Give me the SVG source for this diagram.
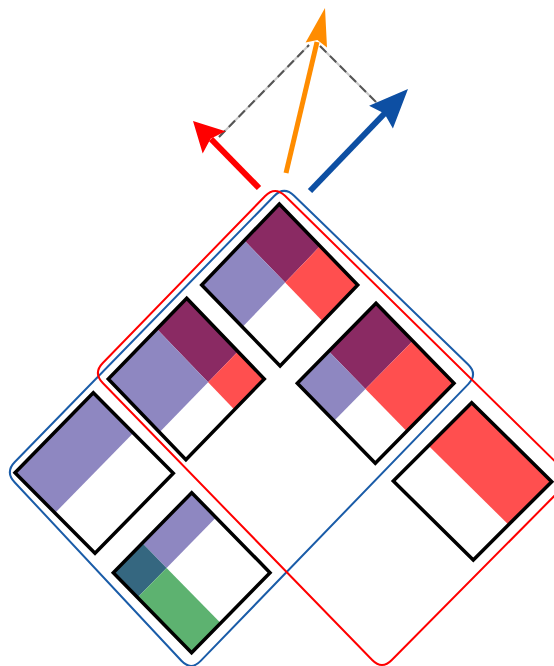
<svg xmlns="http://www.w3.org/2000/svg" width="554" height="666" viewBox="0 0 554 666">
<style>
.frame{fill:none;stroke:#000;stroke-width:3.5;stroke-linejoin:miter;vector-effect:non-scaling-stroke}
.pu{fill:#8a2a63}.rd{fill:#ff4f4f}.lv{fill:#8e87c1}.tl{fill:#356780}.gr{fill:#5db270}.wh{fill:#fff}
.ob{fill:none;stroke:#1a5ca8;stroke-width:2}
.or{fill:none;stroke:#ff0000;stroke-width:2}
.dl{stroke:#c8c8c8;stroke-width:2;fill:none}
.dd{stroke:#555;stroke-width:2;stroke-dasharray:9 5;fill:none}
</style>
<rect width="554" height="666" fill="#fff"/>
<g id="tiles">
<g id="tileA" transform="matrix(78.4 81 -77.6 81 279.3 204)">
<polygon class="wh" points="0,0 1,0 1,1 0,1"/>
<rect class="pu" x="0" y="0" width="0.52" height="0.45"/>
<rect class="rd" x="0.52" y="0" width="0.48" height="0.45"/>
<rect class="lv" x="0" y="0.45" width="0.52" height="0.55"/>
<polygon class="frame" points="0,0 1,0 1,1 0,1"/>
</g>
<g id="tileB" transform="matrix(77.6 80.7 -78.4 80.7 186.7 298.3)">
<polygon class="wh" points="0,0 1,0 1,1 0,1"/>
<rect class="pu" x="0" y="0" width="0.66" height="0.38"/>
<rect class="rd" x="0.66" y="0" width="0.34" height="0.38"/>
<rect class="lv" x="0" y="0.38" width="0.66" height="0.62"/>
<polygon class="frame" points="0,0 1,0 1,1 0,1"/>
</g>
<g id="tileC" transform="matrix(78 80 -78.7 80 376 303.3)">
<polygon class="wh" points="0,0 1,0 1,1 0,1"/>
<rect class="pu" x="0" y="0" width="0.47" height="0.6"/>
<rect class="rd" x="0.47" y="0" width="0.53" height="0.6"/>
<rect class="lv" x="0" y="0.6" width="0.47" height="0.4"/>
<polygon class="frame" points="0,0 1,0 1,1 0,1"/>
</g>
<g id="tileD" transform="matrix(80 80.6 -78.3 80 93.3 392.7)">
<polygon class="wh" points="0,0 1,0 1,1 0,1"/>
<rect class="lv" x="0" y="0" width="0.5" height="1"/>
<polygon class="frame" points="0,0 1,0 1,1 0,1"/>
</g>
<g id="tileE" transform="matrix(78.3 80 -78.4 80 191.7 492.7)">
<polygon class="wh" points="0,0 1,0 1,1 0,1"/>
<rect class="lv" x="0" y="0" width="0.31" height="0.63"/>
<rect class="tl" x="0" y="0.63" width="0.31" height="0.37"/>
<rect class="gr" x="0.31" y="0.63" width="0.69" height="0.37"/>
<polygon class="frame" points="0,0 1,0 1,1 0,1"/>
</g>
<g id="tileF" transform="matrix(80 79 -78.4 78.3 471.7 402.7)">
<polygon class="wh" points="0,0 1,0 1,1 0,1"/>
<rect class="rd" x="0" y="0" width="1" height="0.55"/>
<polygon class="frame" points="0,0 1,0 1,1 0,1"/>
</g>
</g>
<g id="outlines">
<path id="blueGroup" class="ob" d="M294.1,195.7 L467.9,364.3 Q478,374 468.3,384.1 L200.7,660.9 Q191,671 181.4,660.8 L14.6,482.2 Q5,472 14.8,462 L274.2,196 Q284,186 294.1,195.7 Z"/>
<path id="redGroup" class="or" d="M285,195.8 L562,468.2 Q572,478 562.2,488 L391.8,660 Q382,670 372.2,660 L102.8,383 Q93,373 102.8,363 L265.2,196 Q275,186 285,195.8 Z"/>
</g>
<g id="connectors">
<line class="dl" x1="219" y1="137" x2="309" y2="45"/>
<line class="dd" x1="219" y1="137" x2="309" y2="45"/>
<line class="dl" x1="320" y1="46" x2="377" y2="103"/>
<line class="dd" x1="320" y1="46" x2="377" y2="103"/>
<g id="redArrow">
<line x1="259" y1="188" x2="211" y2="139" stroke="#ff0000" stroke-width="6"/>
<polygon fill="#ff0000" points="193,121 225.5,131.2 210.6,138.8 202.7,153.6"/>
</g>
<g id="orangeArrow">
<line x1="286" y1="173" x2="317" y2="42" stroke="#ff8c00" stroke-width="5"/>
<polygon fill="#ff8c00" points="325,8 327,47.5 317.4,40.1 305.6,42.5"/>
</g>
<g id="blueArrow">
<line x1="310" y1="191" x2="385" y2="113" stroke="#0d4fa3" stroke-width="6"/>
<polygon fill="#0d4fa3" points="408,89 392.9,128.5 384.4,113.5 369.1,105.7"/>
</g>
</g>
</svg>
